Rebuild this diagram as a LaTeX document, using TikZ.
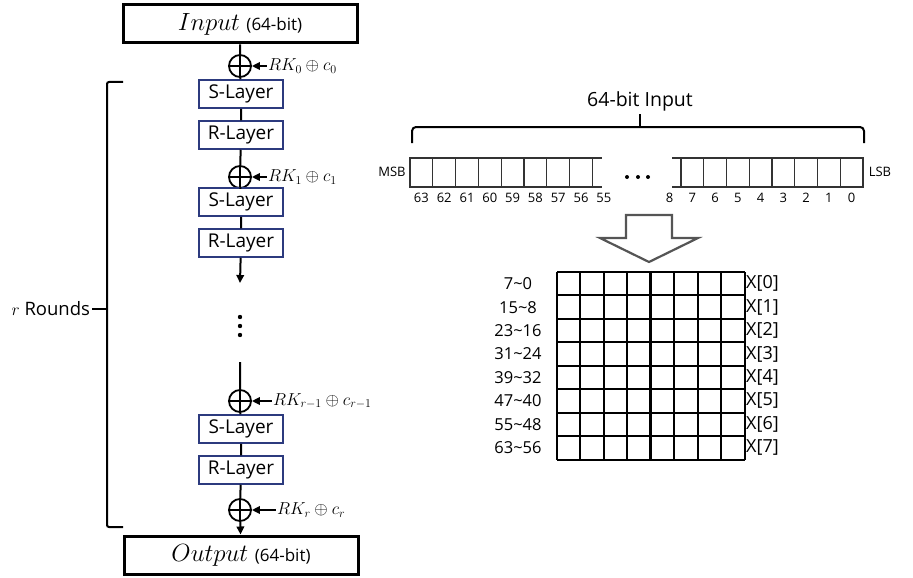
\documentclass[tikz,border=0pt]{standalone}
\usepackage{amsmath}
\usepackage{amssymb}
\usepackage{fontspec}
\setmainfont{Open Sans}
\usetikzlibrary{arrows.meta, positioning}
\definecolor{layerblue}{RGB}{44,58,126}
\definecolor{arrowgray}{RGB}{85,85,85}
\newcommand{\fsz}[1]{\fontsize{#1}{#1}\selectfont}

\begin{document}
\begin{tikzpicture}[x=1pt,y=-1pt,
    layer/.style={draw=layerblue,line width=1.5pt,minimum width=84pt,minimum height=28pt,inner sep=0pt,font=\fsz{19}},
    iobox/.style={draw,line width=3pt,minimum width=234pt,minimum height=38pt,inner sep=0pt},
    xor/.style={circle,draw,line width=1.8pt,minimum size=22pt,inner sep=0pt,
        path picture={\draw[line width=1.8pt] (path picture bounding box.north) -- (path picture bounding box.south)
            (path picture bounding box.west) -- (path picture bounding box.east);}},
    key/.style={inner sep=1pt,anchor=west,font=\fsz{17.5}},
    flow/.style={line width=2pt},
    tip/.style={-{Triangle[length=8pt,width=7.5pt]}},
    bit/.style={font=\fsz{13},inner sep=0pt},
    cell/.style={draw=black!80,line width=1.2pt}]
\useasboundingbox (0,0) rectangle (913,578);

% cipher rounds
\node[iobox] (in) at (240,24) {\fsz{25}$Input$ \fsz{17}(64-bit)};
\node[xor] (x0) at (240,66) {};
\node[layer] (s1) at (241,94) {S-Layer};
\node[layer] (r1) at (241,135) {R-Layer};
\node[xor] (x1) at (240,177) {};
\node[layer] (s2) at (241,202) {S-Layer};
\node[layer] (r2) at (241,243) {R-Layer};
\coordinate (r2end) at (240,283);
\coordinate (c2) at (240,362);
\node[xor] (x2) at (240,401) {};
\node[layer] (s3) at (241,429) {S-Layer};
\node[layer] (r3) at (241,470) {R-Layer};
\node[xor] (x3) at (240,510) {};
\node[iobox] (out) at (241,555) {\fsz{25}$Output$ \fsz{17}(64-bit)};

\node[key,right=15pt of x0] (k0) {$RK_0 \oplus c_0$};
\node[key,right=15pt of x1] (k1) {$RK_1 \oplus c_1$};
\node[key,right=20pt of x2] (k2) {$RK_{r-1} \oplus c_{r-1}$};
\node[key,right=24pt of x3] (k3) {$RK_r \oplus c_r$};

\draw[flow] (in) -- (x0) -- (s1) -- (r1) -- (x1) -- (s2) -- (r2);
\draw[flow,tip] (r2) -- (r2end);
\draw[flow] (c2) -- (x2) -- (s3) -- (r3) -- (x3);
\draw[flow,tip] (x3) -- (out);
\foreach \k/\x in {k0/x0,k1/x1,k2/x2,k3/x3}
    \draw[flow,tip] (\k.west) -- (\x.east);
\foreach \y in {317,326,335}
    \fill (240,\y) circle (2.2);

% round bracket
\draw[flow,rounded corners=2pt] (123,82) -- (107,82) -- (107,527) -- (123,527);
\coordinate (mid) at (107,309);
\draw[flow] (mid) -- ++(-15,0) node[left,inner sep=1pt,font=\fsz{18.5}] (rounds) {$r$ Rounds};

% 64-bit input row
\node[font=\fsz{19.5}] (title) at (640,101) {64-bit Input};
\draw[flow,rounded corners=4pt] (412,143) |- (864,127) -- (864,143);
\draw[flow] (640,127) -- (title.south);
\foreach \i in {0,...,7} {
    \draw[cell] ({410+22.8*\i},158) rectangle +(22.8,29);
    \draw[cell] ({681+22.75*\i},158) rectangle +(22.75,29);
}
\draw[cell] (592.4,158) -- (602,158) (592.4,187) -- (602,187);
\draw[cell] (672,158) -- (681,158) (672,187) -- (681,187);
\foreach \n [count=\i from 0] in {63,62,...,55}
    \node[bit] (hi\n) at ({421.4+22.8*\i},198) {\n};
\foreach \n [count=\i from 0] in {8,7,...,0}
    \node[bit] (lo\n) at ({669.6+22.75*\i},198) {\n};
\node[bit] (msb) at (392,172) {MSB};
\node[bit] (lsb) at (880,172) {LSB};
\foreach \x in {627,638,648}
    \fill (\x,177) circle (2);

% hollow arrow
\draw[arrowgray,line width=2.2pt,fill=white] (626,215) -- (672,215) -- (672,238) -- (698,238)
    -- (649,262) -- (600,238) -- (626,238) -- cycle;

% 8x8 state
\foreach \i in {0,...,8} {
    \draw[line width=2pt] (557,{272+23.45*\i}) -- ++(187.6,0);
    \draw[line width=2pt] ({557+23.45*\i},272) -- ++(0,187.6);
}
\draw[line width=3pt] (650.8,272) -- ++(0,187.6);
\foreach \hi/\lo [count=\i from 0] in {7/0,15/8,23/16,31/24,39/32,47/40,55/48,63/56} {
    \node[font=\fsz{16.5}] (row\i) at (518,{283.7+23.45*\i}) {\hi\textasciitilde\lo};
    \node[anchor=west,inner sep=1pt,font=\fsz{18}] (xw\i) at (745,{283.7+23.45*\i}) {X[\i]};
}
\end{tikzpicture}
\end{document}
